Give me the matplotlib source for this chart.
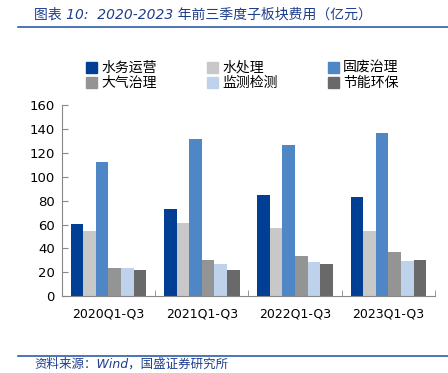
import matplotlib
matplotlib.use("Agg")
import matplotlib.pyplot as plt
from matplotlib.patches import Patch
import numpy as np

plt.rcParams['font.family'] = ['DejaVu Sans', 'Noto Sans CJK SC']

periods = ["2020Q1-Q3", "2021Q1-Q3", "2022Q1-Q3", "2023Q1-Q3"]
series = ["水务运营", "水处理", "固废治理", "大气治理", "监测检测", "节能环保"]
water_ops = [60.5, 72.7, 84.7, 82.8]
water_treat = [54.8, 61.2, 57.0, 54.2]
solid_waste = [112.2, 131.7, 126.4, 136.5]
air = [23.8, 29.9, 33.8, 36.9]
monitor = [23.2, 26.8, 28.5, 29.4]
energy = [21.8, 22.1, 26.8, 30.2]
values = [water_ops, water_treat, solid_waste, air, monitor, energy]
colors = ["#003F94", "#C8C8C8", "#4F86C6", "#949494", "#BED2EC", "#696969"]

fig = plt.figure(figsize=(4.48, 3.73), dpi=100)
ax = fig.add_axes([0.138, 0.206, 0.833, 0.512])

x = np.arange(len(periods))
w = 0.135
for i, (vals, c) in enumerate(zip(values, colors)):
    ax.bar(x + (i - 2.5) * w, vals, width=w, color=c, label=series[i])

ax.set_xlim(-0.5, 3.5)
ax.set_ylim(0, 160)
ax.set_yticks(range(0, 161, 20))
ax.set_xticks(x)
ax.set_xticklabels(periods, fontsize=9)
ax.set_xticks(np.arange(-0.5, 4, 1), minor=True)
ax.tick_params(axis='x', which='major', length=0, pad=8)
ax.tick_params(axis='x', which='minor', length=4, direction='in', color='#888888')
ax.tick_params(axis='y', length=4, direction='in', color='#888888', labelsize=9.5, pad=5)
for s in ['top', 'right']:
    ax.spines[s].set_visible(False)
for s in ['left', 'bottom']:
    ax.spines[s].set_color('#888888')

# legend in reference order (row-wise)
handles = [Patch(color=c) for c in colors]
order = [0, 3, 1, 4, 2, 5]
fig.legend([handles[i] for i in order], [series[i] for i in order], ncol=3,
           loc='center', bbox_to_anchor=(0.541, 0.797), frameon=False,
           prop={'family': 'Noto Sans CJK SC', 'size': 10},
           handlelength=0.8, handleheight=0.8, handletextpad=0.3,
           columnspacing=3.6, labelspacing=0.1)

fig.text(0.076, 0.962, "图表 10:  2020-2023 年前三季度子板块费用（亿元）", fontsize=10,
         color="#1F3F8C", style='italic', va='center')
fig.add_artist(plt.Line2D([0.04, 1.0], [0.928, 0.928], color="#2E5DA8", lw=1.2))
fig.add_artist(plt.Line2D([0.04, 1.0], [0.046, 0.046], color="#2E5DA8", lw=1.2))
fig.text(0.076, 0.024, "资料来源：Wind，国盛证券研究所", fontsize=9,
         color="#1F3F8C", style='italic', va='center')

fig.savefig("out.png", dpi=100)
